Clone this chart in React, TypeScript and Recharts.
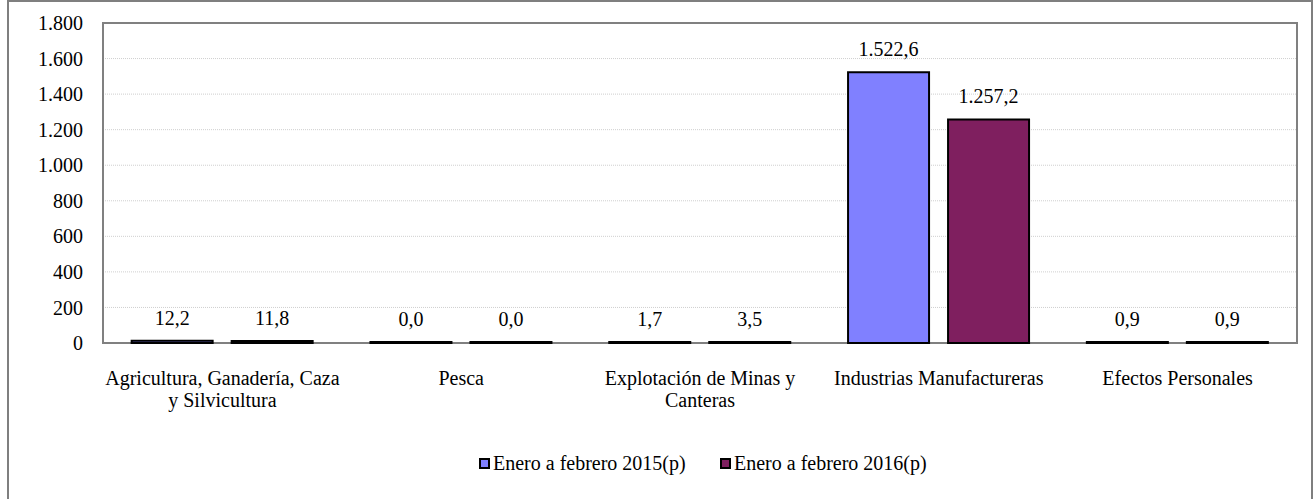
import React from "react";
import {
  BarChart,
  Bar,
  XAxis,
  YAxis,
  CartesianGrid,
  ReferenceArea,
  LabelList,
  Legend,
} from "recharts";

const categories = [
  "Agricultura, Ganadería, Caza\ny Silvicultura",
  "Pesca",
  "Explotación de Minas y\nCanteras",
  "Industrias Manufactureras",
  "Efectos Personales",
];
const serie2015 = [12.2, 0.0, 1.7, 1522.6, 0.9];
const serie2016 = [11.8, 0.0, 3.5, 1257.2, 0.9];
const yTicks = [0, 200, 400, 600, 800, 1000, 1200, 1400, 1600, 1800];

const seriesNames = ["Enero a febrero 2015(p)", "Enero a febrero 2016(p)"];
const seriesColors = ["#8080FF", "#7F1F5F"];

const data = categories.map((c, i) => ({
  name: c,
  a: serie2015[i],
  b: serie2016[i],
}));

const FONT = "'Liberation Serif', 'Times New Roman', serif";

// es-style number: 1.522,6
function fmt(v: number, decimals: number) {
  const [int, dec] = v.toFixed(decimals).split(".");
  const withDots = int.replace(/\B(?=(\d{3})+(?!\d))/g, ".");
  return dec !== undefined ? withDots + "," + dec : withDots;
}

const CategoryTick = (props: any) => {
  const { x, y, payload } = props;
  const lines = String(payload.value).split("\n");
  return (
    <text
      x={x}
      y={y}
      textAnchor="middle"
      fontFamily={FONT}
      fontSize={20}
      fill="#000"
    >
      {lines.map((l, i) => (
        <tspan key={i} x={x} y={y + 42 + i * 22}>
          {l}
        </tspan>
      ))}
    </text>
  );
};

const LegendContent = () => (
  <div style={{ display: "flex", paddingLeft: 479, alignItems: "center", height: 26 }}>
    {seriesNames.map((n, i) => (
      <div key={n} style={{ display: "flex", alignItems: "center", width: 241 }}>
        <span
          style={{
            display: "inline-block",
            width: 11,
            height: 11,
            boxSizing: "border-box",
            border: "2px solid #000",
            background: seriesColors[i],
            marginRight: 3,
          }}
        />
        <span style={{ fontFamily: FONT, fontSize: 20, color: "#000", whiteSpace: "nowrap" }}>
          {n}
        </span>
      </div>
    ))}
  </div>
);

export default function App() {
  return (
    <div
      style={{
        position: "absolute",
        left: 0,
        top: 0,
        width: 1315,
        height: 499,
        overflow: "hidden",
        background: "#fff",
      }}
    >
      <div
        style={{
          position: "absolute",
          left: 7,
          top: 0,
          width: 1306,
          height: 520,
          boxSizing: "border-box",
          border: "2px solid #7f7f7f",
        }}
      />
      <div style={{ position: "absolute", left: 0, top: 0 }}>
        <BarChart
          width={1315}
          height={499}
          data={data}
          margin={{ top: 23, right: 18, left: 0, bottom: 96 }}
          barCategoryGap="12%"
          barGap={19}
        >
          <CartesianGrid
            vertical={false}
            stroke="#cfcfcf"
            strokeDasharray="1 1"
          />
          <XAxis
            dataKey="name"
            axisLine={false}
            tickLine={false}
            tickSize={0}
            tickMargin={0}
            height={60}
            interval={0}
            tick={<CategoryTick />}
          />
          <YAxis
            width={103}
            domain={[0, 1800]}
            ticks={yTicks}
            axisLine={false}
            tickLine={false}
            tickSize={0}
            tickMargin={20}
            tickFormatter={(v: number) => fmt(v, 0)}
            tick={{ fontFamily: FONT, fontSize: 20, fill: "#000" }}
          />
          <ReferenceArea
            y1={0}
            y2={1800}
            fill="none"
            fillOpacity={0}
            stroke="#808080"
            strokeWidth={2}
            ifOverflow="visible"
          />
          <Legend
            verticalAlign="middle"
            layout="horizontal"
            wrapperStyle={{ top: 450, left: 0, width: 1315 }}
            content={<LegendContent />}
          />
          <Bar
            dataKey="a"
            name={seriesNames[0]}
            fill={seriesColors[0]}
            stroke="#000"
            strokeWidth={2}
            minPointSize={1}
            isAnimationActive={false}
          >
            <LabelList
              dataKey="a"
              position="top"
              offset={16}
              formatter={(v: any) => fmt(Number(v), 1)}
              style={{ fontFamily: FONT, fontSize: 20, fill: "#000" }}
            />
          </Bar>
          <Bar
            dataKey="b"
            name={seriesNames[1]}
            fill={seriesColors[1]}
            stroke="#000"
            strokeWidth={2}
            minPointSize={1}
            isAnimationActive={false}
          >
            <LabelList
              dataKey="b"
              position="top"
              offset={16}
              formatter={(v: any) => fmt(Number(v), 1)}
              style={{ fontFamily: FONT, fontSize: 20, fill: "#000" }}
            />
          </Bar>
        </BarChart>
      </div>
    </div>
  );
}
